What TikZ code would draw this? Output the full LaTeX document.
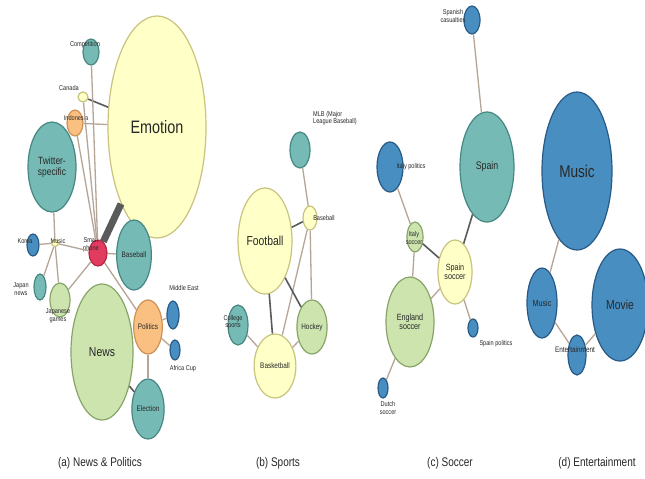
\documentclass[tikz,border=0pt]{standalone}
\usepackage{fontspec}
\setmainfont{Liberation Sans}[FakeStretch=0.8]
\usetikzlibrary{shapes.geometric}

\definecolor{yelfill}{RGB}{255,255,200}
\definecolor{yeldraw}{RGB}{200,195,125}
\definecolor{teafill}{RGB}{118,186,182}
\definecolor{teadraw}{RGB}{70,135,130}
\definecolor{grnfill}{RGB}{205,228,175}
\definecolor{grndraw}{RGB}{135,165,105}
\definecolor{orgfill}{RGB}{250,192,130}
\definecolor{orgdraw}{RGB}{205,145,85}
\definecolor{blufill}{RGB}{72,142,192}
\definecolor{bludraw}{RGB}{40,90,135}
\definecolor{redfill}{RGB}{225,60,95}
\definecolor{reddraw}{RGB}{180,40,70}
\definecolor{linkcol}{RGB}{180,165,150}
\definecolor{darklink}{RGB}{90,90,90}
\definecolor{txtcol}{RGB}{40,40,40}

\tikzset{
  bub/.style={ellipse, draw, line width=1.2pt, inner sep=0pt, align=center, text=txtcol},
  yel/.style={bub, fill=yelfill, draw=yeldraw},
  tea/.style={bub, fill=teafill, draw=teadraw},
  grn/.style={bub, fill=grnfill, draw=grndraw},
  org/.style={bub, fill=orgfill, draw=orgdraw},
  blu/.style={bub, fill=blufill, draw=bludraw},
  rednode/.style={bub, fill=redfill, draw=reddraw},
  lnk/.style={draw=linkcol, line width=1.3pt},
  dlnk/.style={draw=darklink, line width=1.6pt},
  tx/.style={font=\fontsize{7}{7.5}\selectfont, align=center, text=txtcol, inner sep=0pt},
  captxt/.style={font=\fontsize{12.5}{12.5}\selectfont, text=txtcol},
}

\begin{document}
\begin{tikzpicture}[x=1pt, y=-1pt]
    \useasboundingbox[fill=white] (0,0) rectangle (645,479);

    % (a) News & Politics
    \node[yel, minimum width=98pt, minimum height=222pt, font=\fontsize{18}{18}\selectfont] (emo) at (157,127) {Emotion};
    \node[tea, minimum width=16pt, minimum height=26pt] (comp) at (91,52) {};
    \node[yel, minimum width=10pt, minimum height=10pt] (can) at (83,97) {};
    \node[org, minimum width=16pt, minimum height=26pt] (indo) at (75,123) {};
    \node[tea, minimum width=48pt, minimum height=90pt, font=\fontsize{10.5}{11}\selectfont] (twit) at (52,167) {Twitter-\\specific};
    \node[yel, minimum width=7pt, minimum height=7pt] (mus) at (55,243) {};
    \node[blu, minimum width=12pt, minimum height=22pt] (kor) at (33,245) {};
    \node[tea, minimum width=12pt, minimum height=26pt] (jnews) at (40,287) {};
    \node[grn, minimum width=20pt, minimum height=34pt] (jgame) at (60,300) {};
    \node[rednode, minimum width=18pt, minimum height=26pt] (smart) at (98,253) {};
    \node[tea, minimum width=32pt, minimum height=70pt, font=\fontsize{8}{8}\selectfont] (bbal) at (134,255) {Baseball};
    \node[grn, minimum width=62pt, minimum height=136pt, font=\fontsize{13}{13}\selectfont] (news) at (102,352) {News};
    \node[org, minimum width=28pt, minimum height=54pt, font=\fontsize{8}{8}\selectfont] (pol) at (148,327) {Politics};
    \node[blu, minimum width=12pt, minimum height=28pt] (meast) at (173,315) {};
    \node[blu, minimum width=10pt, minimum height=20pt] (afr) at (175,350) {};
    \node[tea, minimum width=32pt, minimum height=60pt, font=\fontsize{8}{8}\selectfont] (elec) at (148,409) {Election};

    \node[tx] (compT) at (85,45) {Competition};
    \node[tx] (canT) at (69,88) {Canada};
    \node[tx] (indoT) at (76,118) {Indonesia};
    \node[tx] (musT) at (58,241) {Music};
    \node[tx] (korT) at (25,241) {Korea};
    \node[tx] (jnewsT) at (21,289) {Japan\\news};
    \node[tx] (jgameT) at (58,316) {Japanese\\games};
    \node[tx] (smartT) at (91,245) {Smart\\phone};
    \node[tx] (meastT) at (184,288) {Middle East};
    \node[tx] (afrT) at (183,369) {Africa Cup};

    \draw[draw=darklink, line width=7pt] (smart) -- (emo);
    \draw[dlnk] (can) -- (emo);
    \draw[lnk] (indo) -- (emo);
    \draw[lnk] (comp) -- (smart);
    \draw[lnk] (can) -- (smart);
    \draw[lnk] (indo) -- (smart);
    \draw[lnk] (twit) -- (mus);
    \draw[lnk] (kor) -- (mus);
    \draw[lnk] (mus) -- (smart);
    \draw[lnk] (mus) -- (jnews);
    \draw[lnk] (mus) -- (jgame);
    \draw[lnk] (jgame) -- (smart);
    \draw[lnk] (smart) -- (bbal);
    \draw[lnk] (smart) -- (pol);
    \draw[lnk] (pol) -- (meast);
    \draw[lnk] (pol) -- (afr);
    \draw[lnk] (pol) -- (elec);
    \draw[dlnk] (news) -- (elec);

    % (b) Sports
    \node[tea, minimum width=20pt, minimum height=36pt] (mlb) at (300,150) {};
    \node[yel, minimum width=14pt, minimum height=24pt] (base) at (310,218) {};
    \node[yel, minimum width=54pt, minimum height=106pt, font=\fontsize{13}{13}\selectfont] (foot) at (265,241) {Football};
    \node[grn, minimum width=30pt, minimum height=54pt, font=\fontsize{8}{8}\selectfont] (hock) at (312,327) {Hockey};
    \node[tea, minimum width=20pt, minimum height=40pt] (coll) at (238,325) {};
    \node[yel, minimum width=32pt, minimum height=64pt, font=\fontsize{8}{8}\selectfont] (bask) at (275,366) {Basketball};

    \node[tx, align=left] (mlbT) at (335,118) {MLB (Major\\League Baseball)};
    \node[tx] (baseT) at (324,218) {Baseball};
    \node[tx] (collT) at (233,322) {College\\sports};

    \draw[lnk] (mlb) -- (base);
    \draw[dlnk] (base) -- (foot);
    \draw[lnk] (base) -- (bask);
    \draw[lnk] (base) -- (hock);
    \draw[dlnk] (foot) -- (hock);
    \draw[dlnk] (foot) -- (bask);
    \draw[lnk] (coll) -- (bask);
    \draw[lnk] (hock) -- (bask);

    % (c) Soccer
    \node[blu, minimum width=16pt, minimum height=28pt] (spcas) at (472,20) {};
    \node[tea, minimum width=54pt, minimum height=110pt, font=\fontsize{11}{11}\selectfont] (spain) at (487,167) {Spain};
    \node[blu, minimum width=26pt, minimum height=50pt] (itpol) at (390,167) {};
    \node[grn, minimum width=16pt, minimum height=30pt] (itsoc) at (415,237) {};
    \node[yel, minimum width=34pt, minimum height=64pt, font=\fontsize{9}{9.5}\selectfont] (spsoc) at (455,272) {Spain\\soccer};
    \node[grn, minimum width=48pt, minimum height=90pt, font=\fontsize{9}{9.5}\selectfont] (engsoc) at (410,322) {England\\soccer};
    \node[blu, minimum width=10pt, minimum height=18pt] (sppol) at (473,328) {};
    \node[blu, minimum width=10pt, minimum height=20pt] (dutch) at (383,388) {};

    \node[tx] (spcasT) at (453,16) {Spanish\\casualties};
    \node[tx] (itpolT) at (411,167) {Italy politics};
    \node[tx] (itsocT) at (414,238) {Italy\\soccer};
    \node[tx] (sppolT) at (496,344) {Spain politics};
    \node[tx] (dutchT) at (388,408) {Dutch\\soccer};

    \draw[lnk] (spcas) -- (spain);
    \draw[dlnk] (spain) -- (spsoc);
    \draw[lnk] (itpol) -- (itsoc);
    \draw[dlnk] (itsoc) -- (spsoc);
    \draw[lnk] (itsoc) -- (engsoc);
    \draw[lnk] (engsoc) -- (spsoc);
    \draw[lnk] (spsoc) -- (sppol);
    \draw[lnk] (engsoc) -- (dutch);

    % (d) Entertainment
    \node[blu, minimum width=70pt, minimum height=158pt, font=\fontsize{17}{17}\selectfont] (music) at (577,171) {Music};
    \node[blu, minimum width=30pt, minimum height=70pt, font=\fontsize{9}{9}\selectfont] (music2) at (542,303) {Music};
    \node[blu, minimum width=56pt, minimum height=112pt, font=\fontsize{13}{13}\selectfont] (movie) at (620,305) {Movie};
    \node[blu, minimum width=18pt, minimum height=40pt] (ent) at (577,355) {};

    \node[tx, font=\fontsize{8}{8}\selectfont] (entT) at (575,350) {Entertainment};

    \draw[lnk] (music) -- (music2);
    \draw[lnk] (music2) -- (ent);
    \draw[lnk] (ent) -- (movie);

    % captions
    \node[captxt] (capa) at (100,463) {(a) News \& Politics};
    \node[captxt] (capb) at (278,463) {(b) Sports};
    \node[captxt] (capc) at (450,463) {(c) Soccer};
    \node[captxt] (capd) at (597,463) {(d) Entertainment};
\end{tikzpicture}
\end{document}
